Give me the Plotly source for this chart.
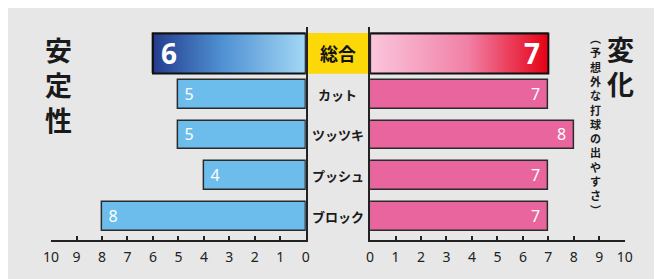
import plotly.graph_objects as go

# ---- data ----
categories = ["総合", "カット", "ツッツキ", "プッシュ", "ブロック"]
stability = [6, 5, 5, 4, 8]          # 安定性 (left)
variation = [7, 7, 8, 7, 7]          # 変化 (right)
tick_values = [0, 1, 2, 3, 4, 5, 6, 7, 8, 9, 10]
left_title = "安定性"
right_title = "変化"
right_subtitle = "︵予想外な打球の出やすさ︶"

# ---- styling ----
WIN_W, WIN_H = 662, 279
OFF = 8                      # default page body margin
W, H = WIN_W - OFF, WIN_H - OFF
JP = "Noto Sans CJK JP"
BLUE = "#6dbdec"
PINK = "#e8659d"
OUTLINE = "#2b2b2b"
AXIS = "#222222"
BG = "#e7e7e7"
YELLOW = "#fcd808"


def fx(p):
    return max(0.0, min(1.0, (p - OFF) / W))


def fy(p):
    return max(0.0, min(1.0, 1 - (p - OFF) / H))


n = len(categories)
rows = list(range(n))
widths = [0.98] + [0.71] * (n - 1)

fig = go.Figure()

# left bars
fig.add_trace(go.Bar(
    y=rows, x=stability, orientation="h", xaxis="x", yaxis="y", width=widths,
    marker=dict(color=BLUE, line=dict(color=OUTLINE, width=1.5)),
    text=[""] + [f" {v}" for v in stability[1:]], textposition="inside",
    insidetextanchor="end", textangle=0, constraintext="none",
    textfont=dict(color="white", size=16, family="Noto Sans"),
    hoverinfo="skip", showlegend=False,
))
# right bars
fig.add_trace(go.Bar(
    y=rows, x=variation, orientation="h", xaxis="x2", yaxis="y2", width=widths,
    marker=dict(color=PINK, line=dict(color=OUTLINE, width=1.5)),
    text=[""] + [f"{v} " for v in variation[1:]], textposition="inside",
    insidetextanchor="end", textangle=0, constraintext="none",
    textfont=dict(color="white", size=16, family="Noto Sans"),
    hoverinfo="skip", showlegend=False,
))

# gradient overlays for the 総合 row (colorscales run left -> right on screen)
h0 = widths[0] / 2
for vals, xa, ya, cs in [
    (stability, "x", "y", [[0, "#243c8e"], [0.45, "#4f90d2"], [1, "#a3d8f5"]]),
    (variation, "x2", "y2", [[0, "#fac6dc"], [0.55, "#f180a6"], [1, "#e50014"]]),
]:
    v = vals[0]
    fig.add_trace(go.Scatter(
        x=[0, v, v, 0, 0], y=[-h0, -h0, h0, h0, -h0], mode="lines",
        fill="toself", fillgradient=dict(type="horizontal", colorscale=cs),
        line=dict(color="#111111", width=2), xaxis=xa, yaxis=ya,
        hoverinfo="skip", showlegend=False,
    ))

annotations = []
# big 総合 values
annotations.append(dict(x=stability[0], y=0, xref="x", yref="y", text=f"<b>{stability[0]}</b>",
                        showarrow=False, xanchor="left", xshift=6,
                        font=dict(size=28, color="white", family="Noto Sans")))
annotations.append(dict(x=variation[0], y=0, xref="x2", yref="y2", text=f"<b>{variation[0]}</b>",
                        showarrow=False, xanchor="right", xshift=-6,
                        font=dict(size=28, color="white", family="Noto Sans")))

# middle category labels
for i, c in enumerate(categories):
    if i == 0:
        f = dict(size=18, color="#111111", family=JP, weight="bold")
    else:
        f = dict(size=13, color="#1a1a1a", family=JP, weight="bold")
    annotations.append(dict(x=fx(338), y=i, xref="paper", yref="y", text=c,
                            showarrow=False, xanchor="center", yanchor="middle", font=f))

# vertical titles (one character per line)
annotations.append(dict(x=fx(52), y=fy(85), xref="paper", yref="paper",
                        text="<br>".join(left_title), showarrow=False,
                        xanchor="center", yanchor="middle",
                        font=dict(size=27, color="#1a1a1a", family=JP, weight="bold")))
annotations.append(dict(x=fx(628), y=fy(66), xref="paper", yref="paper",
                        text="<br>".join(right_title), showarrow=False,
                        xanchor="center", yanchor="middle",
                        font=dict(size=27, color="#1a1a1a", family=JP, weight="bold")))
annotations.append(dict(x=fx(602), y=fy(124), xref="paper", yref="paper",
                        text="<br>".join(right_subtitle), showarrow=False,
                        xanchor="center", yanchor="middle",
                        font=dict(size=11, color="#1a1a1a", family=JP, weight="bold")))

shapes = [
    dict(type="rect", xref="paper", yref="paper", x0=0, x1=1, y0=0, y1=1,
         fillcolor=BG, line=dict(width=0), layer="below"),
    dict(type="rect", xref="paper", yref="y", x0=fx(305), x1=fx(370), y0=-0.5, y1=0.5,
         fillcolor=YELLOW, line=dict(width=0), layer="below"),
]

ydom = [fy(240), fy(27)]
yrange = [4.577, -0.65]
common_x = dict(showline=True, linecolor=AXIS, linewidth=2, ticks="inside", ticklen=4,
                tickwidth=1.5, tickcolor=AXIS, tickvals=tick_values, showgrid=False,
                zeroline=False, fixedrange=True, ticklabelstandoff=3,
                tickfont=dict(size=14, color=AXIS, family="Noto Sans"))
common_y = dict(showline=True, linecolor=AXIS, linewidth=2, showticklabels=False, ticks="",
                showgrid=False, zeroline=False, range=yrange, domain=ydom, fixedrange=True)

fig.update_layout(
    width=W, height=H, margin=dict(l=0, r=0, t=0, b=0),
    paper_bgcolor=BG, plot_bgcolor="rgba(0,0,0,0)",
    xaxis=dict(domain=[fx(44), fx(305)], range=[10, 0], anchor="y", **common_x),
    yaxis=dict(anchor="x", side="right", **common_y),
    xaxis2=dict(domain=[fx(371), fx(632)], range=[0, 10], anchor="y2", **common_x),
    yaxis2=dict(anchor="x2", side="left", **common_y),
    annotations=annotations, shapes=shapes, showlegend=False, bargap=0,
)

fig.write_html("out.html")
